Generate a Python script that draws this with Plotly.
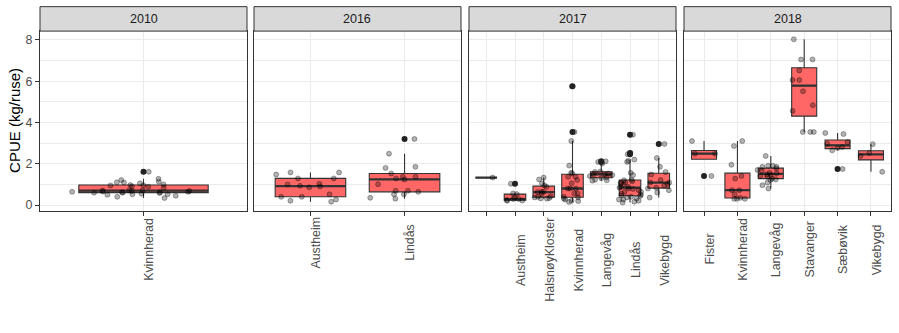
import numpy as np
import plotly.graph_objects as go

# ---------------- data ----------------
years = ["2010", "2016", "2017", "2018"]

cats_2010 = ["Kvinnherad"]
cats_2016 = ["Austheim", "Lindås"]
cats_2017 = [" ", "Austheim", "HalsnøyKloster", "Kvinnherad", "Langevåg", "Lindås", "Vikebygd"]
cats_2018 = ["Fister", "Kvinnherad", "Langevåg", "Stavanger", "Sæbøvik", "Vikebygd"]

kvinnherad_2010 = [0.34, 0.40, 0.45, 0.50, 0.52, 0.52, 0.55, 0.58, 0.60, 0.60, 0.62, 0.62,
                   0.64, 0.64, 0.65, 0.68, 0.69, 0.70, 0.71, 0.72, 0.84, 0.89, 0.90, 0.95,
                   0.96, 0.97, 1.00, 1.05, 1.09, 1.10, 1.13, 1.21, 1.27, 1.61]

austheim_2016 = [0.16, 0.21, 0.27, 0.40, 0.40, 0.52, 0.86, 0.90, 0.93, 1.00, 1.03, 1.29,
                 1.29, 1.48, 1.58, 1.58]
lindas_2016 = [0.31, 0.35, 0.52, 0.52, 0.64, 0.69, 0.69, 1.01, 1.24, 1.29, 1.37, 1.37,
               1.53, 1.80, 1.85, 2.49, 3.20]

blank_2017 = [1.33]
austheim_2017 = [0.21, 0.22, 0.24, 0.29, 0.29, 0.37, 0.53, 0.56, 1.03]
halsnoy_2017 = [0.31, 0.32, 0.34, 0.37, 0.40, 0.43, 0.56, 0.63, 0.64, 0.64, 0.88, 0.95,
                1.05, 1.24, 1.33]
kvinnherad_2017 = [0.15, 0.19, 0.21, 0.27, 0.31, 0.37, 0.40, 0.56, 0.56, 0.80, 0.80, 0.80,
                   1.05, 1.21, 1.37, 1.37, 1.53, 1.56, 1.91, 3.10, 3.54, 5.75]
langevag_2017 = [1.18, 1.20, 1.23, 1.30, 1.34, 1.40, 1.45, 1.49, 1.50, 1.53, 1.60, 1.62,
                 2.01, 2.09, 2.12]
lindas_2017 = [0.12, 0.16, 0.21, 0.27, 0.27, 0.32, 0.37, 0.40, 0.44, 0.46, 0.50, 0.55,
               0.64, 0.64, 0.72, 0.78, 0.80, 0.84, 0.88, 0.88, 1.00, 1.05, 1.08, 1.10,
               1.15, 1.20, 1.22, 1.45, 1.56, 2.09, 2.14, 2.20, 2.46, 2.52, 3.41]
vikebygd_2017 = [0.36, 0.61, 0.72, 0.80, 0.84, 0.93, 1.01, 1.09, 1.09, 1.21, 1.48, 1.60,
                 1.85, 2.28, 2.96]

fister_2018 = [1.41, 2.49, 2.49, 3.10]
kvinnherad_2018 = [0.30, 0.30, 0.30, 0.35, 0.52, 0.72, 0.72, 1.28, 1.41, 1.95, 2.86, 3.10]
langevag_2018 = [0.80, 0.96, 1.09, 1.21, 1.24, 1.29, 1.37, 1.41, 1.45, 1.48, 1.53, 1.56,
                 1.66, 1.70, 1.77, 1.85, 1.85, 1.90, 1.90, 2.38]
stavanger_2018 = [3.54, 3.54, 3.54, 4.56, 4.84, 5.51, 6.06, 6.06, 6.52, 7.05, 7.05, 8.03]
saebovik_2018 = [1.75, 2.65, 2.76, 2.81, 2.97, 3.05, 3.44, 3.49]
vikebygd_2018 = [1.61, 2.38, 2.52, 2.95]

facets = [
    (cats_2010, [kvinnherad_2010]),
    (cats_2016, [austheim_2016, lindas_2016]),
    (cats_2017, [blank_2017, austheim_2017, halsnoy_2017, kvinnherad_2017,
                 langevag_2017, lindas_2017, vikebygd_2017]),
    (cats_2018, [fister_2018, kvinnherad_2018, langevag_2018, stavanger_2018,
                 saebovik_2018, vikebygd_2018]),
]

# ---------------- style / layout ----------------
W, H = 899, 333
panel_px = [(40, 247), (254, 461), (469, 676), (684, 891)]
panel_top, panel_bottom, strip_top = 31.3, 212, 6.7
label_top = 219.5
FONT = "Liberation Sans, Arial, sans-serif"
TICK_SIZE = 12.4
BOX_FILL = "#FF6666"
EDGE = "#333333"
GRID = "#EBEBEB"

# approximate Arial advance widths (em) used to centre rotated labels like ggplot
_CW = {"A": 0.667, "K": 0.667, "H": 0.722, "F": 0.611, "S": 0.667, "V": 0.667,
       "L": 0.556, "k": 0.5, "s": 0.5, "v": 0.5, "y": 0.5, " ": 0.278, "i": 0.222,
       "l": 0.222, "r": 0.333, "t": 0.278, "f": 0.278, "æ": 0.889, "ø": 0.611,
       "j": 0.222}


def text_w(s):
    return sum(_CW.get(c, 0.556) for c in s) * TICK_SIZE


def box_stats(v):
    a = np.sort(np.asarray(v, dtype=float))
    q1, med, q3 = np.percentile(a, [25, 50, 75])
    iqr = q3 - q1
    lo_f, hi_f = q1 - 1.5 * iqr, q3 + 1.5 * iqr
    inr = a[(a >= lo_f) & (a <= hi_f)]
    lo = min(q1, inr.min())
    hi = max(q3, inr.max())
    out = a[(a < lo_f) | (a > hi_f)]
    return q1, med, q3, lo, hi, out


all_vals = np.concatenate([np.asarray(v) for _, vs in facets for v in vs])
span = all_vals.max() - all_vals.min()
yrange = [all_vals.min() - 0.05 * span, all_vals.max() + 0.05 * span]

fig = go.Figure()
ydom = [1 - panel_bottom / H, 1 - panel_top / H]

for k, (cats, series) in enumerate(facets):
    sfx = "" if k == 0 else str(k + 1)
    xa, ya = "x" + sfx, "y" + sfx
    idx = list(range(len(cats)))
    stats = [box_stats(v) for v in series]
    q1 = [s[0] for s in stats]
    med = [s[1] for s in stats]
    q3 = [s[2] for s in stats]
    lo = [s[3] for s in stats]
    hi = [s[4] for s in stats]

    # boxes
    fig.add_trace(go.Box(x=idx, q1=q1, median=med, q3=q3, lowerfence=lo, upperfence=hi,
                         boxpoints=False, width=0.75, whiskerwidth=0,
                         fillcolor=BOX_FILL, line=dict(color=EDGE, width=1.1),
                         xaxis=xa, yaxis=ya, hoverinfo="skip"))
    # thicker median line
    fig.add_trace(go.Box(x=idx, q1=med, median=med, q3=med, lowerfence=med, upperfence=med,
                         boxpoints=False, width=0.75, whiskerwidth=0,
                         fillcolor="rgba(0,0,0,0)", line=dict(color=EDGE, width=2.3),
                         xaxis=xa, yaxis=ya, hoverinfo="skip"))
    # outliers
    ox, oy = [], []
    for i, s in zip(idx, stats):
        ox += [i] * len(s[5])
        oy += list(s[5])
    fig.add_trace(go.Scatter(x=ox, y=oy, mode="markers",
                             marker=dict(size=6, color="#222222"),
                             xaxis=xa, yaxis=ya, hoverinfo="skip"))
    # jittered points
    jx, jy = [], []
    for i, v in zip(idx, series):
        jx += [i] * len(v)
        jy += list(v)
    fig.add_trace(go.Box(x=jx, y=jy, boxpoints="all", jitter=1, pointpos=0, width=0.85,
                         fillcolor="rgba(0,0,0,0)", line=dict(width=0, color="rgba(0,0,0,0)"),
                         marker=dict(size=5, color="rgba(0,0,0,0.3)",
                                     line=dict(color="rgba(0,0,0,0.3)", width=1)),
                         xaxis=xa, yaxis=ya, hoverinfo="skip"))

    x0, x1 = panel_px[k]
    xdom = [x0 / W, x1 / W]
    fig.update_layout(**{
        "xaxis" + sfx: dict(domain=xdom, anchor=ya, range=[-0.6, len(cats) - 0.4],
                            tickmode="array", tickvals=idx, ticktext=[""] * len(cats),
                            ticks="outside", ticklen=4, tickwidth=1,
                            tickcolor=EDGE, showgrid=True, gridcolor=GRID, gridwidth=1,
                            zeroline=False, showline=True, mirror=True, linecolor=EDGE,
                            linewidth=1),
        "yaxis" + sfx: dict(domain=ydom, anchor=xa, range=yrange, tick0=0, dtick=2,
                            ticks="outside" if k == 0 else "", ticklen=4, tickwidth=1,
                            tickcolor=EDGE, showticklabels=(k == 0),
                            showgrid=True, gridcolor=GRID, gridwidth=1, zeroline=False,
                            showline=True, mirror=True, linecolor=EDGE, linewidth=1,
                            minor=dict(dtick=1, tick0=0, showgrid=True, gridcolor=GRID,
                                       gridwidth=0.5, ticks=""),
                            tickfont=dict(family=FONT, size=TICK_SIZE, color="#4D4D4D")),
    })
    # rotated category labels, centred within the panel's label band (ggplot style)
    band = max(text_w(c) for c in cats)
    yc = 1 - (label_top + band / 2) / H
    for i, c in zip(idx, cats):
        fig.add_annotation(x=i, y=yc, xref=xa, yref="paper", text=c, textangle=-90,
                           showarrow=False, xanchor="center", yanchor="middle", xshift=6,
                           font=dict(family=FONT, size=TICK_SIZE, color="#4D4D4D"))
    # strip
    fig.add_shape(type="rect", xref="paper", yref="paper", x0=xdom[0], x1=xdom[1],
                  y0=1 - panel_top / H, y1=1 - strip_top / H,
                  fillcolor="#D9D9D9", line=dict(color=EDGE, width=1))
    fig.add_annotation(x=(xdom[0] + xdom[1]) / 2, y=1 - (panel_top + strip_top) / 2 / H,
                       xref="paper", yref="paper", text=years[k], showarrow=False,
                       xanchor="center", yanchor="middle",
                       font=dict(family=FONT, size=12.5, color="#1A1A1A"))

fig.add_annotation(x=15 / W, y=1 - (panel_top + panel_bottom) / 2 / H, xref="paper",
                   yref="paper", text="CPUE (kg/ruse)", textangle=-90, showarrow=False,
                   xanchor="center", yanchor="middle",
                   font=dict(family=FONT, size=15, color="#000000"))

fig.update_layout(width=W, height=H, margin=dict(l=0, r=0, t=0, b=0),
                  plot_bgcolor="white", paper_bgcolor="white", showlegend=False,
                  boxmode="overlay", font=dict(family=FONT))

fig.write_html("out.html")
